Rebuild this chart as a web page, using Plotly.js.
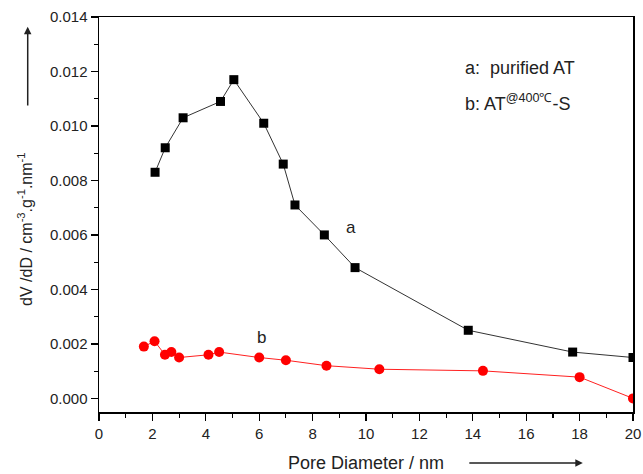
<!DOCTYPE html>
<html>
<head>
<meta charset="utf-8">
<script src="https://cdn.plot.ly/plotly-3.0.1.min.js"></script>
<style>html,body{margin:0;padding:0;background:#fff;}#chart{width:643px;height:474px;}</style>
</head>
<body>
<div id="chart"></div>
<script>
// Series a: purified AT
const aX = [2.1, 2.48, 3.15, 4.55, 5.05, 6.17, 6.9, 7.34, 8.44, 9.59, 13.83, 17.74, 20];
const aY = [0.0083, 0.0092, 0.0103, 0.0109, 0.0117, 0.0101, 0.0086, 0.0071, 0.0060, 0.0048, 0.0025, 0.0017, 0.0015];
// Series b: AT@400℃-S
const bX = [1.68, 2.08, 2.47, 2.71, 3.0, 4.1, 4.5, 6.0, 7.0, 8.52, 10.5, 14.38, 18.0, 20];
const bY = [0.0019, 0.0021, 0.0016, 0.0017, 0.0015, 0.0016, 0.0017, 0.0015, 0.0014, 0.0012, 0.00107, 0.00101, 0.00078, 0.0000];

const xTitle = 'Pore Diameter / nm';
const yTitle = 'dV /dD / cm<sup>-3</sup>.g<sup>-1</sup>.nm<sup>-1</sup>';
const legendA = 'a:\u00a0 purified AT';
const legendB = 'b: AT<sup>@400℃</sup>-S';

const font = 'Liberation Sans, Arial, sans-serif';
const txt = '#222222';

const traces = [
  {x: aX, y: aY, type: 'scatter', mode: 'lines+markers', name: 'a',
   line: {color: '#333333', width: 1}, marker: {symbol: 'square', size: 9, color: '#000000'}},
  {x: bX, y: bY, type: 'scatter', mode: 'lines+markers', name: 'b',
   line: {color: '#ff2020', width: 1}, marker: {symbol: 'circle', size: 10, color: '#ff0000'}}
];

const layout = {
  width: 643, height: 474,
  margin: {l: 99, r: 10, t: 17, b: 62},
  paper_bgcolor: '#ffffff', plot_bgcolor: '#ffffff',
  showlegend: false,
  font: {family: font, color: txt, size: 15},
  xaxis: {
    range: [0, 20], dtick: 2, tick0: 0,
    showline: true, linecolor: '#000', linewidth: 1.5, mirror: true,
    ticks: 'outside', ticklen: 7, tickwidth: 1.3, tickcolor: '#000',
    minor: {dtick: 1, ticks: 'outside', ticklen: 4, tickwidth: 1.2, tickcolor: '#000'},
    showgrid: false, zeroline: false,
    tickfont: {size: 15, family: font, color: txt},
    title: {text: xTitle, font: {size: 18, family: font, color: txt}, standoff: 16}
  },
  yaxis: {
    range: [-0.0005, 0.014], dtick: 0.002, tick0: 0, tickformat: '.3f',
    showline: true, linecolor: '#000', linewidth: 1.5, mirror: true,
    ticks: 'outside', ticklen: 7, tickwidth: 1.3, tickcolor: '#000',
    minor: {dtick: 0.001, ticks: 'outside', ticklen: 4, tickwidth: 1.2, tickcolor: '#000'},
    showgrid: false, zeroline: false,
    tickfont: {size: 15, family: font, color: txt}
  },
  annotations: [
    {xref: 'paper', yref: 'paper', x: -0.1385, y: 0.461, text: yTitle, textangle: -90,
     showarrow: false, font: {size: 16, family: font, color: txt}, xanchor: 'center', yanchor: 'middle'},
    {xref: 'x', yref: 'y', x: 9.42, y: 0.00627, text: 'a', showarrow: false,
     font: {size: 17, family: font, color: txt}},
    {xref: 'x', yref: 'y', x: 6.08, y: 0.00222, text: 'b', showarrow: false,
     font: {size: 17, family: font, color: txt}},
    {xref: 'x', yref: 'y', x: 13.63, y: 0.01213, text: legendA, showarrow: false,
     xanchor: 'left', yanchor: 'middle', font: {size: 18, family: font, color: txt}},
    {xref: 'x', yref: 'y', x: 13.63, y: 0.01085, text: legendB, showarrow: false,
     xanchor: 'left', yanchor: 'middle', font: {size: 18, family: font, color: txt}},
    {xref: 'paper', yref: 'paper', x: -0.1335, y: 0.975, ax: 0, ay: 80, axref: 'pixel', ayref: 'pixel',
     text: '', showarrow: true, arrowhead: 2, arrowsize: 1, arrowwidth: 1.5, arrowcolor: '#222'},
    {xref: 'paper', yref: 'paper', x: 0.906, y: -0.129, ax: -115, ay: 0, axref: 'pixel', ayref: 'pixel',
     text: '', showarrow: true, arrowhead: 2, arrowsize: 1, arrowwidth: 1.5, arrowcolor: '#222'}
  ]
};

Plotly.newPlot('chart', traces, layout, {displayModeBar: false, staticPlot: true});
</script>
</body>
</html>
